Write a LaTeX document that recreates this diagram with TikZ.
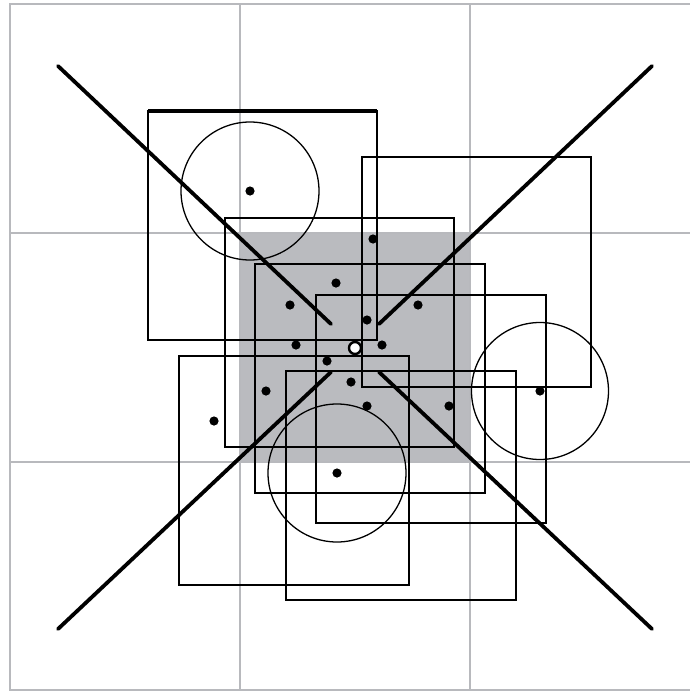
\documentclass[tikz,border=0pt]{standalone}
\definecolor{gridgray}{RGB}{184,185,189}
\definecolor{cellgray}{RGB}{186,187,191}
\tikzset{
  gridline/.style={draw=gridgray, line width=2.4},
  sq/.style={draw=black, line width=2.1},
  ring/.style={draw=black, line width=1.3},
  diag/.style={draw=black, line width=3.8, line cap=round},
  dotpt/.style={fill=black, draw=none},
}
\begin{document}
\begin{tikzpicture}[x=1pt,y=-1pt]
\useasboundingbox (0,0) rectangle (689,691);
\fill[white] (0,0) rectangle (689,691);
% shaded centre cell
\fill[cellgray] (240,233) rectangle (470,462);
% grid
\draw[gridline] (10,4) rectangle (700,690);
\draw[gridline] (240,4) -- (240,690);
\draw[gridline] (470,4) -- (470,690);
\draw[gridline] (10,233) -- (700,233);
\draw[gridline] (10,462) -- (700,462);
% squares
\draw[sq] (148,111) rectangle (377,340);
\draw[black, line width=4.2] (148,111) -- (377,111);
\draw[sq] (362,157) rectangle (591,387);
\draw[sq] (225,218) rectangle (454,447);
\draw[sq] (255,264) rectangle (485,493);
\draw[sq] (316,295) rectangle (546,523);
\draw[sq] (179,356) rectangle (409,585);
\draw[sq] (286,371) rectangle (516,600);
% circles
\draw[ring] (250,191) circle[radius=69];
\draw[ring] (540,391) circle[radius=68.5];
\draw[ring] (337,473) circle[radius=69];
% diagonals
\coordinate (c) at (355,348);
\draw[diag] (58,66) -- (331,324);
\draw[diag] (652,66) -- (379,324);
\draw[diag] (58,629) -- (331,372);
\draw[diag] (652,629) -- (379,372);
% dots
\foreach \p in {(250,191),(373,239),(336,283),(290,305),(418,305),(367,320),
  (296,345),(382,345),(327,361),(351,382),(266,391),(367,406),(449,406),
  (214,421),(337,473),(540,391)}
  \fill[dotpt] \p circle[radius=4.6];
% centre ring
\draw[black, line width=2.4, fill=white] (c) circle[radius=6];
\end{tikzpicture}
\end{document}
